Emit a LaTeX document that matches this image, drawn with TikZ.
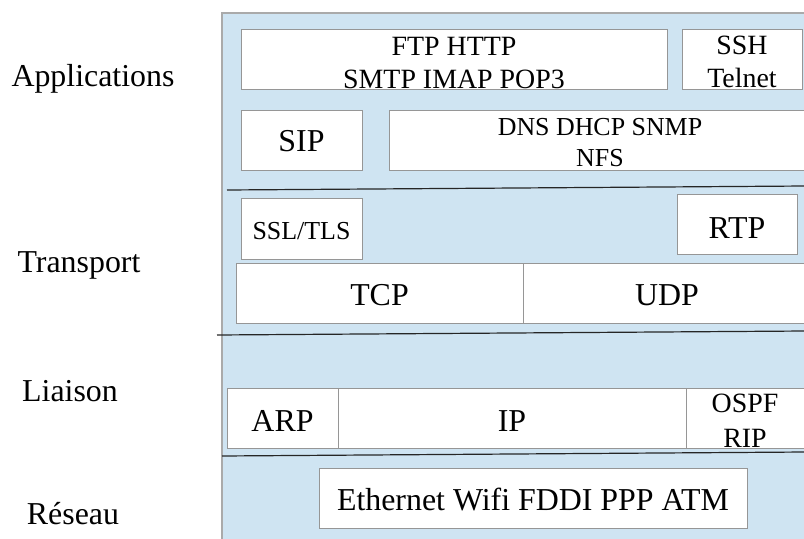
\documentclass[tikz,border=0pt]{standalone}
\usepackage{fontspec}
\setmainfont{Liberation Serif}
\usetikzlibrary{positioning}

\definecolor{layerblue}{RGB}{207,228,242}
\definecolor{boxgray}{RGB}{150,150,150}
\definecolor{edgegray}{RGB}{170,170,170}

\newcommand{\bigtxt}{\fontsize{32}{38}\selectfont}
\newcommand{\midtxt}{\fontsize{28}{34}\selectfont}
\newcommand{\smalltxt}{\fontsize{26}{32}\selectfont}

\tikzset{
    protobox/.style={draw=boxgray, fill=white, line width=0.9bp, inner sep=0pt},
    prototxt/.style={anchor=base, align=center, inner sep=0pt, font=\bigtxt},
    layername/.style={anchor=base, inner sep=0pt, font=\bigtxt},
    separator/.style={draw=black!85, line width=1.2bp}
}

\begin{document}
\begin{tikzpicture}[x=1bp, y=-1bp]
    \useasboundingbox (0,0) rectangle (804,539);
    \clip (0,0) rectangle (804,539);

    % fond des couches
    \fill[layerblue] (222,13) rectangle (812,545);
    \draw[edgegray, line width=1.2bp] (222,545) -- (222,13) -- (812,13);

    % noms des couches
    \node[layername] (app)   at (93,87)  {Applications};
    \node[layername] (trans) at (79,273) {Transport};
    \node[layername] (liais) at (70,401) {Liaison};
    \node[layername] (res)   at (73,524) {Réseau};

    % applications
    \node[protobox, minimum width=426bp, minimum height=60bp] (ftp) at (454,59) {};
    \node[prototxt, font=\midtxt] (ftptxt) at (454,89) {FTP HTTP\\SMTP IMAP POP3};
    \node[protobox, minimum width=120bp, minimum height=60bp] (ssh) at (742,59) {};
    \node[prototxt, font=\midtxt] (sshtxt) at (742,88) {SSH\\Telnet};
    \node[protobox, minimum width=121bp, minimum height=60bp] (sip) at (301.5,140) {};
    \node[prototxt] (siptxt) at (301.5,152) {SIP};
    \node[protobox, minimum width=422bp, minimum height=60bp] (dns) at (600,140) {};
    \node[prototxt, font=\smalltxt] (dnstxt) at (600,167) {DNS DHCP SNMP\\NFS};

    \draw[separator] (227,190) -- (806,186);

    % transport
    \node[protobox, minimum width=121bp, minimum height=61bp] (ssl) at (301.5,228.5) {};
    \node[prototxt, font=\smalltxt] (ssltxt) at (301.5,240) {SSL/TLS};
    \node[protobox, minimum width=120bp, minimum height=60bp] (rtp) at (737,224) {};
    \node[prototxt] (rtptxt) at (737,239) {RTP};
    \node[protobox, minimum width=287bp, minimum height=60bp] (tcp) at (379.5,293) {};
    \node[prototxt] (tcptxt) at (379.5,306) {TCP};
    \node[protobox, minimum width=288bp, minimum height=60bp] (udp) at (667,293) {};
    \node[prototxt] (udptxt) at (667,306) {UDP};

    \draw[separator] (217,335) -- (806,331);

    % liaison
    \node[protobox, minimum width=111bp, minimum height=60bp] (arp) at (282.5,418) {};
    \node[prototxt] (arptxt) at (282.5,431) {ARP};
    \node[protobox, minimum width=348bp, minimum height=60bp] (ip) at (512,418) {};
    \node[prototxt] (iptxt) at (512,431) {IP};
    \node[protobox, minimum width=118bp, minimum height=60bp] (ospf) at (745,418) {};
    \node[prototxt, font=\midtxt] (ospftxt) at (745,447) {OSPF\\[1bp]RIP};

    \draw[separator] (222,456) -- (806,452);

    % reseau
    \node[protobox, minimum width=428bp, minimum height=60bp] (eth) at (533,498) {};
    \node[prototxt] (ethtxt) at (533,510) {Ethernet Wifi FDDI PPP ATM};
\end{tikzpicture}
\end{document}
